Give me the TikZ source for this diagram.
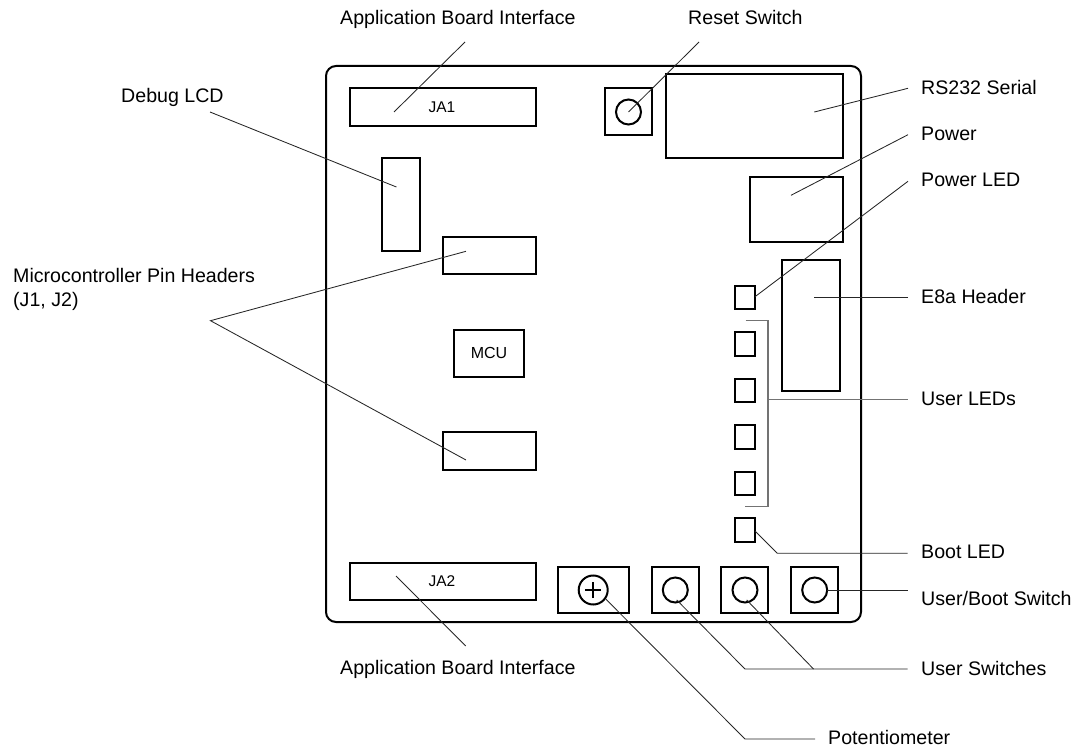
\documentclass[tikz,border=0pt]{standalone}
\usepackage{fontspec}
\setmainfont{Liberation Sans}
\newcommand{\boxat}[6][partbox]{\node[#1,minimum width=#5-#3,minimum height=#6-#4] (#2) at ({(#3+#5)/2},{(#4+#6)/2}) {};}
\tikzset{
  partbox/.style={draw=black,line width=2pt,inner sep=0pt,fill=none},
  knob/.style={draw=black,line width=2pt,circle,inner sep=0pt,minimum size=25pt},
  boardbox/.style={partbox,line width=2pt,rounded corners=10pt},
  lbl/.style={anchor=base west,inner sep=0pt,font=\fontsize{19.6}{24.5}\selectfont},
  small/.style={inner sep=0pt,font=\fontsize{15.5}{18}\selectfont},
  lead/.style={draw=black!85,line width=0.85pt},
  bracket/.style={draw=black!55,line width=1.2pt},
}
\begin{document}
\begin{tikzpicture}[x=1pt,y=-1pt]
\useasboundingbox (0,0) rectangle (1078,751);
% board and parts
\boxat[boardbox]{board}{326}{66}{861}{622}
\boxat{ja1}{349.5}{88.5}{535.5}{126}
\boxat{ja2}{349.5}{562.5}{535.5}{600}
\boxat{reset}{605}{88.5}{652}{135}
\boxat{lcd}{382}{158}{419.5}{251}
\boxat{jone}{442.5}{237}{535.5}{274}
\boxat{jtwo}{442.5}{432}{535.5}{469.5}
\boxat{mcu}{453.5}{330}{524}{376.5}
\boxat{rs}{665.5}{74.5}{843}{158.5}
\boxat{pwr}{749.5}{177}{843}{242}
\boxat{eeight}{782}{260.5}{840}{390.5}
\boxat{ledp}{735.3}{285.7}{754.5}{309.3}
\boxat{ledone}{735.3}{332}{754.5}{355.5}
\boxat{ledtwo}{735.3}{378.7}{754.5}{402.2}
\boxat{ledthree}{735.3}{425.2}{754.5}{448.8}
\boxat{ledfour}{735.3}{471.7}{754.5}{495.3}
\boxat{ledboot}{735.3}{518}{754.5}{541.6}
\boxat{pot}{558}{566.7}{628.7}{613.3}
\boxat{swone}{651.5}{566.7}{698.7}{613.3}
\boxat{swtwo}{721}{566.7}{768.3}{613.3}
\boxat{swboot}{791}{566.7}{838.3}{613.3}
% knobs
\node[knob] (kreset) at (628.5,112) {};
\node[knob,minimum size=29pt] (kpot) at (593.2,590) {};
\node[knob] (kone) at (675.3,590) {};
\node[knob] (ktwo) at (745,590) {};
\node[knob] (kboot) at (814.7,590) {};
\draw[line width=2pt] ([xshift=-8pt]kpot.center) -- ([xshift=8pt]kpot.center)
  ([yshift=-8pt]kpot.center) -- ([yshift=8pt]kpot.center);
% printed texts on parts
\node[small] (tja1) at (442,107.5) {JA1};
\node[small] (tja2) at (442,581) {JA2};
\node[small,font=\fontsize{16}{18}\selectfont] (tmcu) at (489,352.5) {MCU};
% labels
\node[lbl] (lapptop) at (340,24.5) {Application Board Interface};
\node[lbl] (lreset) at (688,24.5) {Reset Switch};
\node[lbl] (ldebug) at (121,103) {Debug LCD};
\node[lbl,align=left] (lmicro) at (13,306.7) {Microcontroller Pin Headers\\(J1, J2)};
\node[lbl] (lrs) at (921,94.3) {RS232 Serial};
\node[lbl] (lpwr) at (921,140.3) {Power};
\node[lbl] (lpled) at (921,186.7) {Power LED};
\node[lbl] (lee) at (921,303) {E8a Header};
\node[lbl] (luled) at (921,405) {User LEDs};
\node[lbl] (lbled) at (921,558.3) {Boot LED};
\node[lbl] (lubsw) at (921,605) {User/Boot Switch};
\node[lbl] (lusw) at (921,675) {User Switches};
\node[lbl] (lpot) at (828,744.6) {Potentiometer};
\node[lbl] (lappbot) at (340,674.3) {Application Board Interface};
% connector ends
\coordinate (a1) at (465,42);   \coordinate (a2) at (394,112);
\coordinate (r1) at (699,42);   \coordinate (r2) at (628.5,112);
\coordinate (d1) at (210,112);  \coordinate (d2) at (396.4,187);
\coordinate (m0) at (210.5,320.7); \coordinate (m1) at (466,251.3); \coordinate (m2) at (466,460);
\coordinate (s1) at (908,88.3); \coordinate (s2) at (814.3,112);
\coordinate (p1) at (908,134.7); \coordinate (p2) at (791,195.3);
\coordinate (q1) at (908,181.3); \coordinate (q2) at (755,296.7);
\coordinate (e1) at (908,297.7); \coordinate (e2) at (814.3,297.7);
\coordinate (u1) at (907.5,399.7); \coordinate (u2) at (768,399.7);
\coordinate (b0a) at (745.7,320.7); \coordinate (b0b) at (768,320.7);
\coordinate (b1b) at (768,506.7); \coordinate (b1a) at (745,506.7);
\coordinate (bl1) at (907.5,553.3); \coordinate (bl2) at (777.3,553.3); \coordinate (bl3) at (755,531);
\coordinate (ub1) at (907.5,590.3); \coordinate (ub2) at (826.7,590.3);
\coordinate (j1) at (465.7,646); \coordinate (j2) at (396,576);
\coordinate (pt1) at (815,739); \coordinate (pt2) at (745,739); \coordinate (pt3) at (606,599.3);
\coordinate (us1) at (907.5,669); \coordinate (us2) at (813.5,669); \coordinate (us3) at (745,669);
\coordinate (us4) at (676.7,600); \coordinate (us5) at (746.7,600);
% connectors
\draw[lead] (a1) -- (a2);
\draw[lead] (r1) -- (r2);
\draw[lead] (d1) -- (d2);
\draw[lead] (m1) -- (m0) -- (m2);
\draw[lead] (s1) -- (s2);
\draw[lead] (p1) -- (p2);
\draw[lead] (q1) -- (q2);
\draw[lead] (e1) -- (e2);
\draw[bracket] (b0a) -- (b0b) -- (b1b) -- (b1a);
\draw[bracket] (u1) -- (u2);
\draw[lead] (bl1) -- (bl2) -- (bl3);
\draw[lead] (ub1) -- (ub2);
\draw[lead] (j1) -- (j2);
\draw[lead] (pt1) -- (pt2) -- (pt3);
\draw[lead] (us1) -- (us3) -- (us4);
\draw[lead] (us2) -- (us5);
\end{tikzpicture}
\end{document}
